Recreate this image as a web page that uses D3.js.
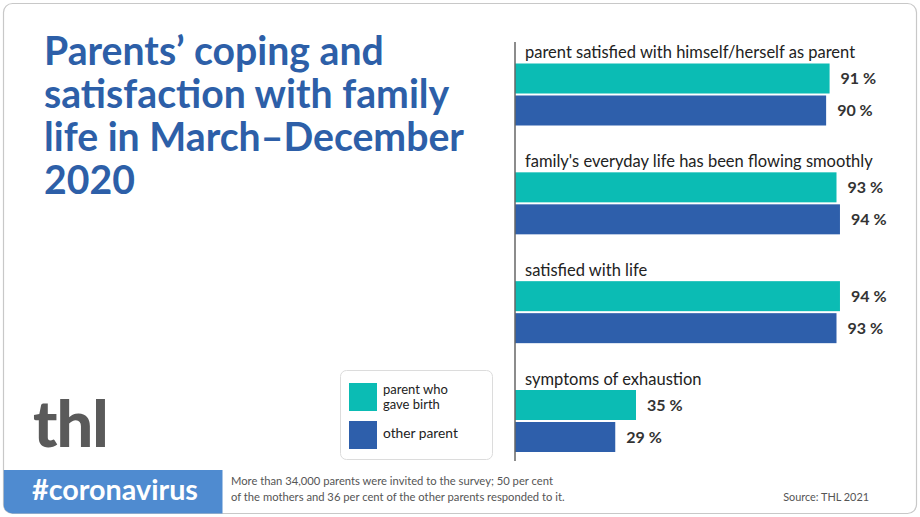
<!DOCTYPE html>
<html>
<head>
<meta charset="utf-8">
<script src="https://cdn.jsdelivr.net/npm/d3@7"></script>
<style>
  html, body { margin: 0; padding: 0; background: #ffffff; }
  svg { display: block; }
  text { font-family: Lato, "Noto Sans", sans-serif; }
</style>
</head>
<body>
<svg id="chart" width="920" height="517"></svg>
<script>
const categories = [
  "parent satisfied with himself/herself as parent",
  "family's everyday life has been flowing smoothly",
  "satisfied with life",
  "symptoms of exhaustion"
];
const seriesNames = ["parent who gave birth", "other parent"];
const birthParent = [91, 93, 94, 35];
const otherParent = [90, 94, 93, 29];
const titleLines = ["Parents\u2019 coping and", "satisfaction with family", "life in March\u2013December", "2020"];
const noteLines = ["More than 34,000 parents were invited to the survey; 50 per cent", "of the mothers and 36 per cent of the other parents responded to it."];
const sourceText = "Source: THL 2021";

const colors = ["#0bbcb4", "#2e5fab"];
const svg = d3.select("#chart");

// card
svg.append("rect").attr("x", 3.5).attr("y", 3.5).attr("width", 913).attr("height", 510)
  .attr("rx", 9).attr("fill", "#fff").attr("stroke", "#c8c8c8").attr("stroke-width", 1.2);

function fit(sel, target) {
  const w = sel.node().getComputedTextLength();
  const fs = parseFloat(sel.attr("font-size"));
  sel.attr("font-size", fs * target / w);
  return fs * target / w;
}

// title
const titleBase = [65, 108, 151, 194];
const titleSel = titleLines.map((t, i) => svg.append("text").attr("x", 44).attr("y", titleBase[i]).text(t)
    .attr("font-size", 35).attr("font-weight", 700).attr("fill", "#2d5fa8"));
const tfs = Math.min(fit(titleSel[2], 420), 40);
titleSel.forEach(s => s.attr("font-size", tfs));
const w1 = titleSel[1].node().getComputedTextLength();
if (w1 > 422) titleSel.forEach(s => s.attr("font-size", tfs * 422 / w1));

// chart
const x = d3.scaleLinear().domain([0, 100]).range([515, 860.7]);
const groupTop = d3.scaleLinear().domain([0, 3]).range([63.5, 390]);
const barH = 30, barGap = 2;

const g = svg.append("g");
categories.forEach((c, i) => {
  const top = groupTop(i);
  g.append("text").attr("x", 525).attr("y", top - 5.5).text(c)
    .attr("font-size", 16.5).attr("fill", "#222");
  [birthParent[i], otherParent[i]].forEach((v, j) => {
    const y = top + j * (barH + barGap);
    g.append("rect").attr("x", x(0)).attr("y", y).attr("width", x(v) - x(0)).attr("height", barH)
      .attr("fill", colors[j]);
    g.append("text").attr("x", x(v) + 11).attr("y", y + barH / 2 + 5.5).text(v + " %")
      .attr("font-size", 16).attr("font-weight", 700).attr("fill", "#333");
  });
});
svg.append("line").attr("x1", 515).attr("x2", 515).attr("y1", 42).attr("y2", 461)
  .attr("stroke", "#666").attr("stroke-width", 1.5);

// legend
svg.append("rect").attr("x", 340.5).attr("y", 370.5).attr("width", 152).attr("height", 89)
  .attr("rx", 6).attr("fill", "#fff").attr("stroke", "#dcdcdc");
const legY = [383, 421];
seriesNames.forEach((n, j) => {
  svg.append("rect").attr("x", 349).attr("y", legY[j]).attr("width", 28).attr("height", 28)
    .attr("fill", colors[j]);
});
svg.append("text").attr("x", 383).attr("y", 393.5).text("parent who").attr("font-size", 13).attr("fill", "#222");
svg.append("text").attr("x", 383).attr("y", 409).text("gave birth").attr("font-size", 13).attr("fill", "#222");
const op = svg.append("text").attr("x", 383).attr("y", 438).text("other parent").attr("font-size", 14).attr("fill", "#222");
fit(op, 75);

// thl logo
const logo = svg.append("text").attr("x", 33).attr("y", 447).text("thl")
  .attr("font-size", 52).attr("font-weight", 900).attr("fill", "#5a5a5a").attr("letter-spacing", -1);
fit(logo, 74);

// bottom strip
const clip = svg.append("clipPath").attr("id", "cardclip");
clip.append("rect").attr("x", 3.5).attr("y", 3.5).attr("width", 913).attr("height", 510).attr("rx", 9);
svg.append("rect").attr("x", 3.5).attr("y", 470).attr("width", 219).attr("height", 44)
  .attr("fill", "#4f8bd0").attr("clip-path", "url(#cardclip)");
const tag = svg.append("text").attr("x", 32).attr("y", 500).text("#coronavirus")
  .attr("font-size", 27).attr("font-weight", 700).attr("fill", "#fff");
fit(tag, 166);

const n0 = svg.append("text").attr("x", 231).attr("y", 485).text(noteLines[0]).attr("font-size", 12).attr("fill", "#555");
const n1 = svg.append("text").attr("x", 231).attr("y", 501).text(noteLines[1]).attr("font-size", 12).attr("fill", "#555");
const nfs = fit(n1, 334);
n0.attr("font-size", nfs);
const src = svg.append("text").attr("x", 869).attr("y", 501).attr("text-anchor", "end").text(sourceText)
  .attr("font-size", 12).attr("fill", "#555");
fit(src, 86);
</script>
</body>
</html>
